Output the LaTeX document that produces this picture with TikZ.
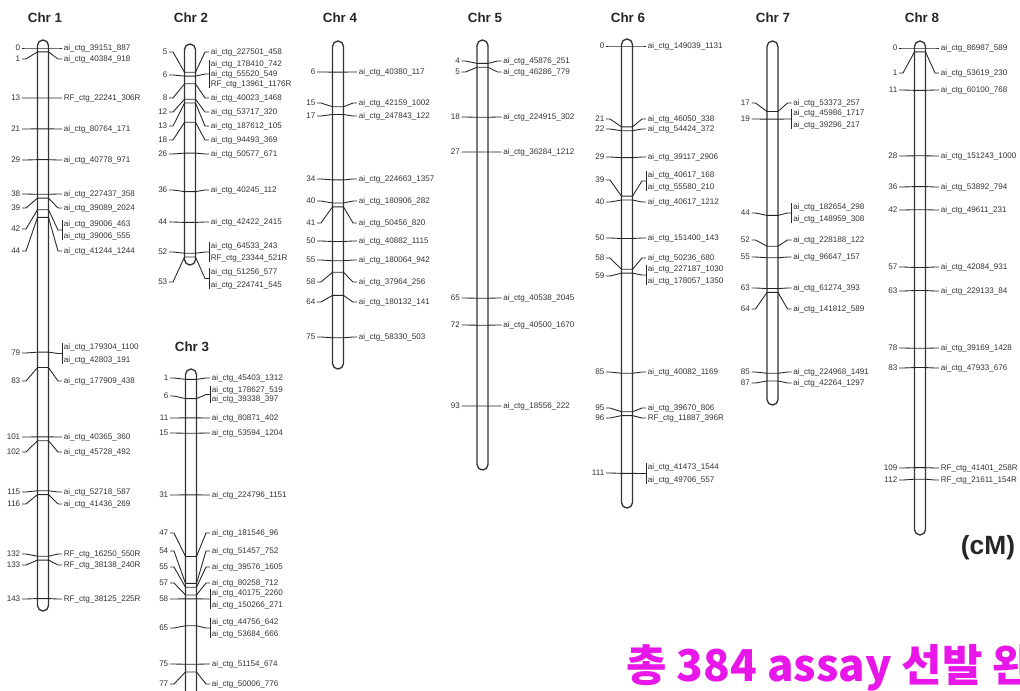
\documentclass[tikz,border=0pt]{standalone}
\usepackage{fontspec}
\setmainfont{Liberation Sans}
\newfontfamily\kofont{Noto Sans CJK KR}
\definecolor{markpink}{RGB}{232,22,232}

% one marker: #1 chromosome, #2 cM, #3 label y, #4 marker name
\newcommand{\mk}[4]{%
  \pgfmathsetmacro\my{\chy+3.85*#2}
  \node[num] (n#1-#2) at (\chx-21,#3) {#2};
  \node[lab] (m#1-#2) at (\chx+19,#3) {#4};
  \draw[mline] (n#1-#2.east) -- (\chx-17,#3) -- (\chx-5.5,\my) -- (\chx+5.5,\my)
    -- (\chx+15,#3) -- (m#1-#2.west);
}
% two markers at one position: #3 number y, #4/#5 upper, #6/#7 lower
\newcommand{\mkb}[7]{%
  \pgfmathsetmacro\my{\chy+3.85*#2}
  \pgfmathsetmacro\ym{(#4+#6)/2}
  \node[num] (n#1-#2) at (\chx-21,#3) {#2};
  \node[lab] (m#1-#2a) at (\chx+19,#4) {#5};
  \node[lab] (m#1-#2b) at (\chx+19,#6) {#7};
  \coordinate (k#1-#2) at (\chx+19,\ym);
  \draw[mline] (n#1-#2.east) -- (\chx-17,#3) -- (\chx-5.5,\my) -- (\chx+5.5,\my)
    -- (\chx+15,\ym) -- (k#1-#2);
  \draw[mline] (k#1-#2 |- m#1-#2a.north) -- (k#1-#2 |- m#1-#2b.south);
}

\begin{document}
\catcode`\_=12
\begin{tikzpicture}[
    x=0.02cm, y=-0.02cm,
    chromo/.style={draw=black!80, line width=0.75pt, rounded corners=3.1pt},
    mline/.style={draw=black!85, line width=0.5pt},
    num/.style={font=\fontsize{4.6}{5}\selectfont, text=black!80, text height=3.6pt,
      text depth=0.3pt, inner xsep=1pt, inner ysep=0.3pt, outer sep=0pt, anchor=east},
    lab/.style={num, anchor=west},
    chrname/.style={font=\bfseries\fontsize{7.6}{9}\selectfont, text=black!85},
    unit/.style={font=\bfseries\fontsize{15}{18}\selectfont, text=black!85},
    hangul/.style={font=\kofont\bfseries\fontsize{25}{30}\selectfont, text=markpink,
      anchor=base west, inner sep=0pt}
  ]
  \useasboundingbox (0,0) rectangle (1020,690);

  % --- Chr 1 ---
  \def\chx{43}\def\chy{48}
  \node[chrname] (t1) at (45,18) {Chr 1};
  \draw[chromo] (\chx-5.5,40) rectangle (\chx+5.5,611);
  \foreach \c/\l/\n in {0/48/ai_ctg_39151_887, 1/59/ai_ctg_40384_918,
      13/98/RF_ctg_22241_306R, 21/129/ai_ctg_80764_171, 29/160/ai_ctg_40778_971,
      38/194/ai_ctg_227437_358, 39/208/ai_ctg_39089_2024, 44/251/ai_ctg_41244_1244,
      83/381/ai_ctg_177909_438, 101/437/ai_ctg_40365_360, 102/452/ai_ctg_45728_492,
      115/492/ai_ctg_52718_587, 116/504/ai_ctg_41436_269, 132/554/RF_ctg_16250_550R,
      133/565/RF_ctg_38138_240R, 143/599/RF_ctg_38125_225R}
    {\mk{1}{\c}{\l}{\n}}
  \mkb{1}{42}{229}{224}{ai_ctg_39006_463}{236}{ai_ctg_39006_555}
  \mkb{1}{79}{353}{347}{ai_ctg_179304_1100}{360}{ai_ctg_42803_191}

  % --- Chr 2 ---
  \def\chx{190}\def\chy{53}
  \node[chrname] (t2) at (191,18) {Chr 2};
  \draw[chromo] (\chx-5.5,44) rectangle (\chx+5.5,265);
  \foreach \c/\l/\n in {5/52/ai_ctg_227501_458, 8/98/ai_ctg_40023_1468,
      12/112/ai_ctg_53717_320, 13/126/ai_ctg_187612_105, 18/140/ai_ctg_94493_369,
      26/154/ai_ctg_50577_671, 36/190/ai_ctg_40245_112, 44/222/ai_ctg_42422_2415}
    {\mk{2}{\c}{\l}{\n}}
  \mkb{2}{6}{75}{64}{ai_ctg_178410_742}{84}{RF_ctg_13961_1176R}
  \node[lab] (m2-6c) at (\chx+19,74) {ai_ctg_55520_549};
  \mkb{2}{52}{252}{246}{ai_ctg_64533_243}{258}{RF_ctg_23344_521R}
  \mkb{2}{53}{282}{272}{ai_ctg_51256_577}{285}{ai_ctg_224741_545}

  % --- Chr 3 ---
  \def\chx{191}\def\chy{375.5}
  \node[chrname] (t3) at (192,347) {Chr 3};
  \draw[chromo] (\chx-5.5,369) rectangle (\chx+5.5,730);
  \foreach \c/\l/\n in {1/378/ai_ctg_45403_1312, 11/418/ai_ctg_80871_402,
      15/433/ai_ctg_53594_1204, 31/495/ai_ctg_224796_1151, 47/533/ai_ctg_181546_96,
      54/551/ai_ctg_51457_752, 55/567/ai_ctg_39576_1605, 57/583/ai_ctg_80258_712,
      75/664/ai_ctg_51154_674, 77/684/ai_ctg_50006_776}
    {\mk{3}{\c}{\l}{\n}}
  \mkb{3}{6}{396}{390}{ai_ctg_178627_519}{399}{ai_ctg_39338_397}
  \mkb{3}{58}{599}{593}{ai_ctg_40175_2260}{605}{ai_ctg_150266_271}
  \mkb{3}{65}{628}{622}{ai_ctg_44756_642}{634}{ai_ctg_53684_666}

  % --- Chr 4 ---
  \def\chx{338}\def\chy{49}
  \node[chrname] (t4) at (340,18) {Chr 4};
  \draw[chromo] (\chx-5.5,41) rectangle (\chx+5.5,369);
  \foreach \c/\l/\n in {6/72/ai_ctg_40380_117, 15/103/ai_ctg_42159_1002,
      17/116/ai_ctg_247843_122, 34/179/ai_ctg_224663_1357, 40/201/ai_ctg_180906_282,
      41/223/ai_ctg_50456_820, 50/241/ai_ctg_40882_1115, 55/260/ai_ctg_180064_942,
      58/282/ai_ctg_37964_256, 64/302/ai_ctg_180132_141, 75/337/ai_ctg_58330_503}
    {\mk{4}{\c}{\l}{\n}}

  % --- Chr 5 ---
  \def\chx{482.5}\def\chy{48}
  \node[chrname] (t5) at (485,18) {Chr 5};
  \draw[chromo] (\chx-5.5,40) rectangle (\chx+5.5,470);
  \foreach \c/\l/\n in {4/61/ai_ctg_45876_251, 5/72/ai_ctg_46286_779,
      18/117/ai_ctg_224915_302, 27/152/ai_ctg_36284_1212, 65/298/ai_ctg_40538_2045,
      72/325/ai_ctg_40500_1670, 93/406/ai_ctg_18556_222}
    {\mk{5}{\c}{\l}{\n}}

  % --- Chr 6 ---
  \def\chx{627}\def\chy{46}
  \node[chrname] (t6) at (628,18) {Chr 6};
  \draw[chromo] (\chx-5.5,39) rectangle (\chx+5.5,508);
  \foreach \c/\l/\n in {0/46/ai_ctg_149039_1131, 21/119/ai_ctg_46050_338,
      22/129/ai_ctg_54424_372, 29/157/ai_ctg_39117_2906, 40/202/ai_ctg_40617_1212,
      50/238/ai_ctg_151400_143, 58/258/ai_ctg_50236_680, 85/372/ai_ctg_40082_1169,
      95/408/ai_ctg_39670_806, 96/418/RF_ctg_11887_396R}
    {\mk{6}{\c}{\l}{\n}}
  \mkb{6}{39}{180}{175}{ai_ctg_40617_168}{187}{ai_ctg_55580_210}
  \mkb{6}{59}{276}{269}{ai_ctg_227187_1030}{281}{ai_ctg_178057_1350}
  \mkb{6}{111}{473}{467}{ai_ctg_41473_1544}{480}{ai_ctg_49706_557}

  % --- Chr 7 ---
  \def\chx{772.5}\def\chy{46}
  \node[chrname] (t7) at (773,18) {Chr 7};
  \draw[chromo] (\chx-5.5,41) rectangle (\chx+5.5,405);
  \foreach \c/\l/\n in {17/103/ai_ctg_53373_257, 52/240/ai_ctg_228188_122,
      55/257/ai_ctg_96647_157, 63/288/ai_ctg_61274_393, 64/309/ai_ctg_141812_589,
      85/372/ai_ctg_224968_1491, 87/383/ai_ctg_42264_1297}
    {\mk{7}{\c}{\l}{\n}}
  \mkb{7}{19}{119}{113}{ai_ctg_45986_1717}{125}{ai_ctg_39296_217}
  \mkb{7}{44}{213}{207}{ai_ctg_182654_298}{219}{ai_ctg_148959_308}

  % --- Chr 8 ---
  \def\chx{920}\def\chy{48}
  \node[chrname] (t8) at (922,18) {Chr 8};
  \draw[chromo] (\chx-5.5,41) rectangle (\chx+5.5,535);
  \foreach \c/\l/\n in {0/48/ai_ctg_86987_589, 1/73/ai_ctg_53619_230,
      11/90/ai_ctg_60100_768, 28/156/ai_ctg_151243_1000, 36/187/ai_ctg_53892_794,
      42/210/ai_ctg_49611_231, 57/267/ai_ctg_42084_931, 63/291/ai_ctg_229133_84,
      78/348/ai_ctg_39169_1428, 83/368/ai_ctg_47933_676, 109/468/RF_ctg_41401_258R,
      112/480/RF_ctg_21611_154R}
    {\mk{8}{\c}{\l}{\n}}

  % unit and note
  \node[unit] (cm) at (988,548) {(cM)};
  \node[hangul] (note) at (626,681) {총 384 assay 선발 완};
\end{tikzpicture}
\end{document}
